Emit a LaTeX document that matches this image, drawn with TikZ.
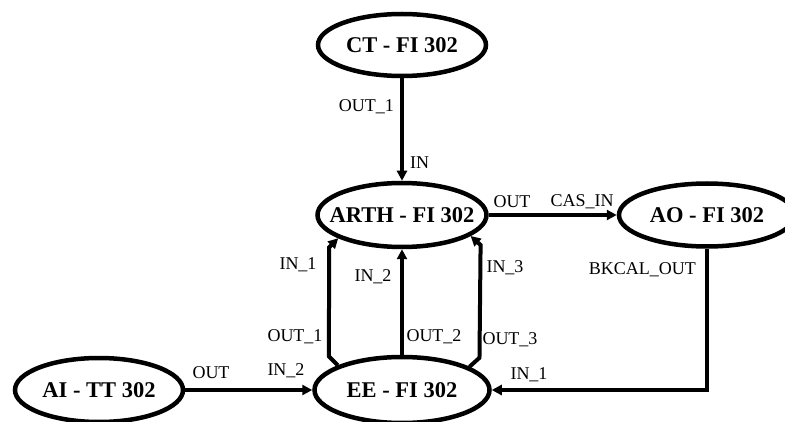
\documentclass[tikz,border=0pt]{standalone}
\usepackage{fontspec}
\setmainfont{Liberation Serif}
\usetikzlibrary{shapes.geometric,arrows.meta,calc}
\newcommand{\blktext}[1]{\makebox[0pt]{#1}}
\begin{document}
\begin{tikzpicture}[x=1pt,y=1pt,
  blk/.style={ellipse,draw,line width=4.5pt,inner sep=0pt,font=\fontsize{22.5}{25}\selectfont\bfseries},
  conn/.style={line width=4pt},
  arr/.style={conn,-{Triangle[length=10pt,width=10pt]}},
  lbl/.style={font=\fontsize{18}{20}\selectfont,inner sep=0pt}]
\useasboundingbox (0,0) rectangle (785,421);
% blocks
\node[blk,minimum width=168pt,minimum height=62pt] (ct) at (402,376) {\blktext{CT - FI 302}};
\node[blk,minimum width=169pt,minimum height=64pt] (arth) at (402,206) {\blktext{ARTH - FI 302}};
\node[blk,minimum width=176pt,minimum height=63pt] (ao) at (707,206) {\blktext{AO - FI 302}};
\node[blk,minimum width=175pt,minimum height=66pt] (ee) at (402,31) {\blktext{EE - FI 302}};
\node[blk,minimum width=168pt,minimum height=64pt] (ai) at (99,31) {\blktext{AI - TT 302}};
% connectors
\draw[arr] (ct.south) -- (arth.north);
\draw[arr] (arth.east) -- (ao.west);
\draw[arr] (ao.south) |- (ee.east);
\draw[arr] (ai.east) -- (ee.west);
\draw[arr] (ee.north) -- (arth.south);
\draw[arr] (ee.159) -- ++(-9,9) -- ($(arth.200)+(-9,-9)$) -- (arth.200);
\draw[arr] (ee.19) -- ++(10,9) -- ($(arth.343)+(10,-9)$) -- (arth.343);
% labels
\node[lbl,anchor=east] (l1) at (394,314) {OUT\_1};
\node[lbl,anchor=west] (l2) at (410,258) {IN};
\node[lbl] (l3) at (512,219) {OUT};
\node[lbl] (l4) at (582,219) {CAS\_IN};
\node[lbl,anchor=east] (l5) at (696,151) {BKCAL\_OUT};
\node[lbl] (l6) at (529,46) {IN\_1};
\node[lbl] (l7) at (211,48) {OUT};
\node[lbl] (l8) at (286,50) {IN\_2};
\node[lbl] (l9) at (298,156) {IN\_1};
\node[lbl] (l10) at (373,144) {IN\_2};
\node[lbl] (l11) at (505,153) {IN\_3};
\node[lbl] (l12) at (295,84) {OUT\_1};
\node[lbl] (l13) at (434,84) {OUT\_2};
\node[lbl] (l14) at (510,81) {OUT\_3};
\end{tikzpicture}
\end{document}
